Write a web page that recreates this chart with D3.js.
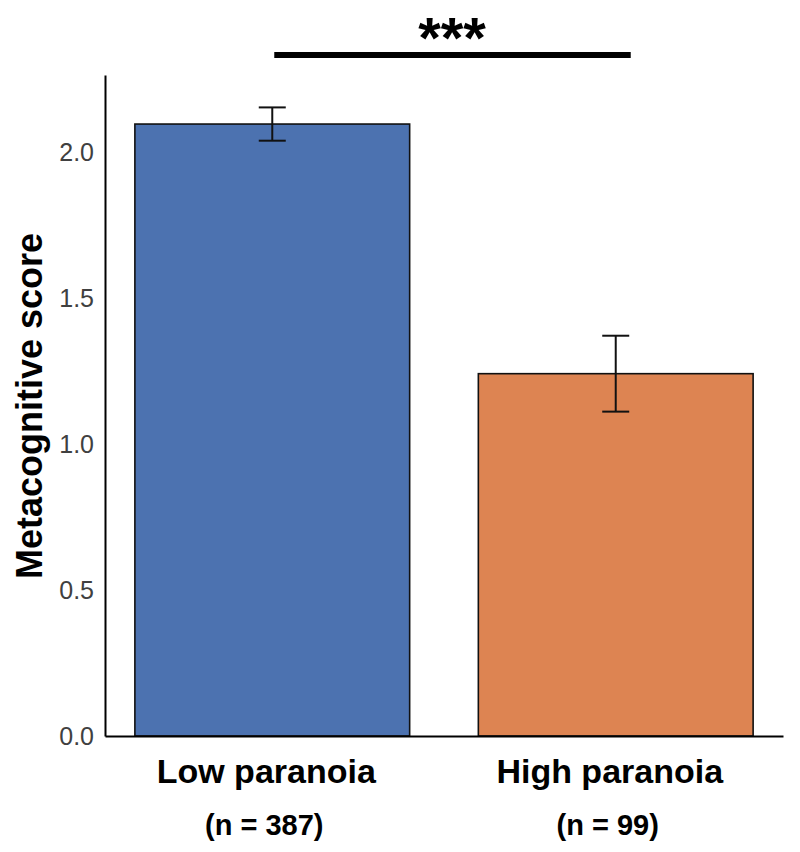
<!DOCTYPE html>
<html>
<head>
<meta charset="utf-8">
<script src="https://cdn.jsdelivr.net/npm/d3@7"></script>
<style>
  body { margin: 0; background: #fff; }
</style>
</head>
<body>
<svg id="chart" width="800" height="852"></svg>
<script>
const groups = ["Low paranoia", "High paranoia"];
const counts = ["(n = 387)", "(n = 99)"];
const means = [2.096, 1.241];
const errors = [0.057, 0.13];
const colors = ["#4c72b0", "#dd8452"];
const yTicks = [0, 0.5, 1.0, 1.5, 2.0];
const sigLabel = "***";

const font = "'Liberation Sans', Arial, sans-serif";
const svg = d3.select("#chart");

const x = d3.scaleBand()
  .domain(groups)
  .range([105, 783])
  .paddingInner(0.2)
  .paddingOuter(0.087);

const y = d3.scaleLinear()
  .domain([0, 2.264])
  .range([736, 75]);

// bars
svg.selectAll("rect.bar")
  .data(groups)
  .join("rect")
  .attr("class", "bar")
  .attr("x", d => x(d))
  .attr("width", x.bandwidth())
  .attr("y", (d, i) => y(means[i]))
  .attr("height", (d, i) => y(0) - y(means[i]))
  .attr("fill", (d, i) => colors[i])
  .attr("stroke", "#111")
  .attr("stroke-width", 1.6);

// error bars
const capW = 13.5;
groups.forEach((g, i) => {
  const cx = x(g) + x.bandwidth() / 2;
  const e = svg.append("g").attr("stroke", "#111").attr("stroke-width", 2);
  e.append("line").attr("x1", cx).attr("x2", cx)
    .attr("y1", y(means[i] + errors[i])).attr("y2", y(means[i] - errors[i]));
  [means[i] + errors[i], means[i] - errors[i]].forEach(v => {
    e.append("line").attr("x1", cx - capW).attr("x2", cx + capW)
      .attr("y1", y(v)).attr("y2", y(v));
  });
});

// axes
const yAxis = svg.append("g")
  .attr("transform", "translate(105,0)")
  .call(d3.axisLeft(y).tickValues(yTicks).tickFormat(d3.format(".1f")).tickSize(0).tickPadding(11));
yAxis.attr("font-family", font).attr("font-size", 25);
yAxis.select(".domain").attr("stroke", "#000").attr("stroke-width", 2);
yAxis.selectAll("text").attr("fill", "#404040");

const xAxis = svg.append("g")
  .attr("transform", "translate(0,736)")
  .call(d3.axisBottom(x).tickSize(0).tickFormat(""));
xAxis.select(".domain").attr("stroke", "#000").attr("stroke-width", 2);

// category labels
svg.selectAll("text.cat")
  .data(groups)
  .join("text")
  .attr("class", "cat")
  .attr("x", d => x(d) + x.bandwidth() / 2 - 6)
  .attr("y", 783)
  .attr("text-anchor", "middle")
  .attr("font-family", font)
  .attr("font-weight", "bold")
  .attr("font-size", 34)
  .attr("fill", "#000")
  .text(d => d);

svg.selectAll("text.count")
  .data(groups)
  .join("text")
  .attr("class", "count")
  .attr("x", d => x(d) + x.bandwidth() / 2 - 8)
  .attr("y", 835)
  .attr("text-anchor", "middle")
  .attr("font-family", font)
  .attr("font-weight", "bold")
  .attr("font-size", 29)
  .attr("fill", "#000")
  .text((d, i) => counts[i]);

// y title
svg.append("text")
  .attr("transform", "translate(42,406) rotate(-90)")
  .attr("text-anchor", "middle")
  .attr("font-family", font)
  .attr("font-weight", "bold")
  .attr("font-size", 36)
  .attr("fill", "#000")
  .text("Metacognitive score");

// significance bracket
const x0 = x(groups[0]) + x.bandwidth() / 2;
const x1 = x(groups[1]) + x.bandwidth() / 2;
svg.append("line")
  .attr("x1", x0 + 2).attr("x2", x1 + 15)
  .attr("y1", 55).attr("y2", 55)
  .attr("stroke", "#000")
  .attr("stroke-width", 6);
svg.append("text")
  .attr("x", 452)
  .attr("y", 58)
  .attr("text-anchor", "middle")
  .attr("font-family", font)
  .attr("font-weight", "bold")
  .attr("font-size", 58)
  .attr("fill", "#000")
  .text(sigLabel);
</script>
</body>
</html>
